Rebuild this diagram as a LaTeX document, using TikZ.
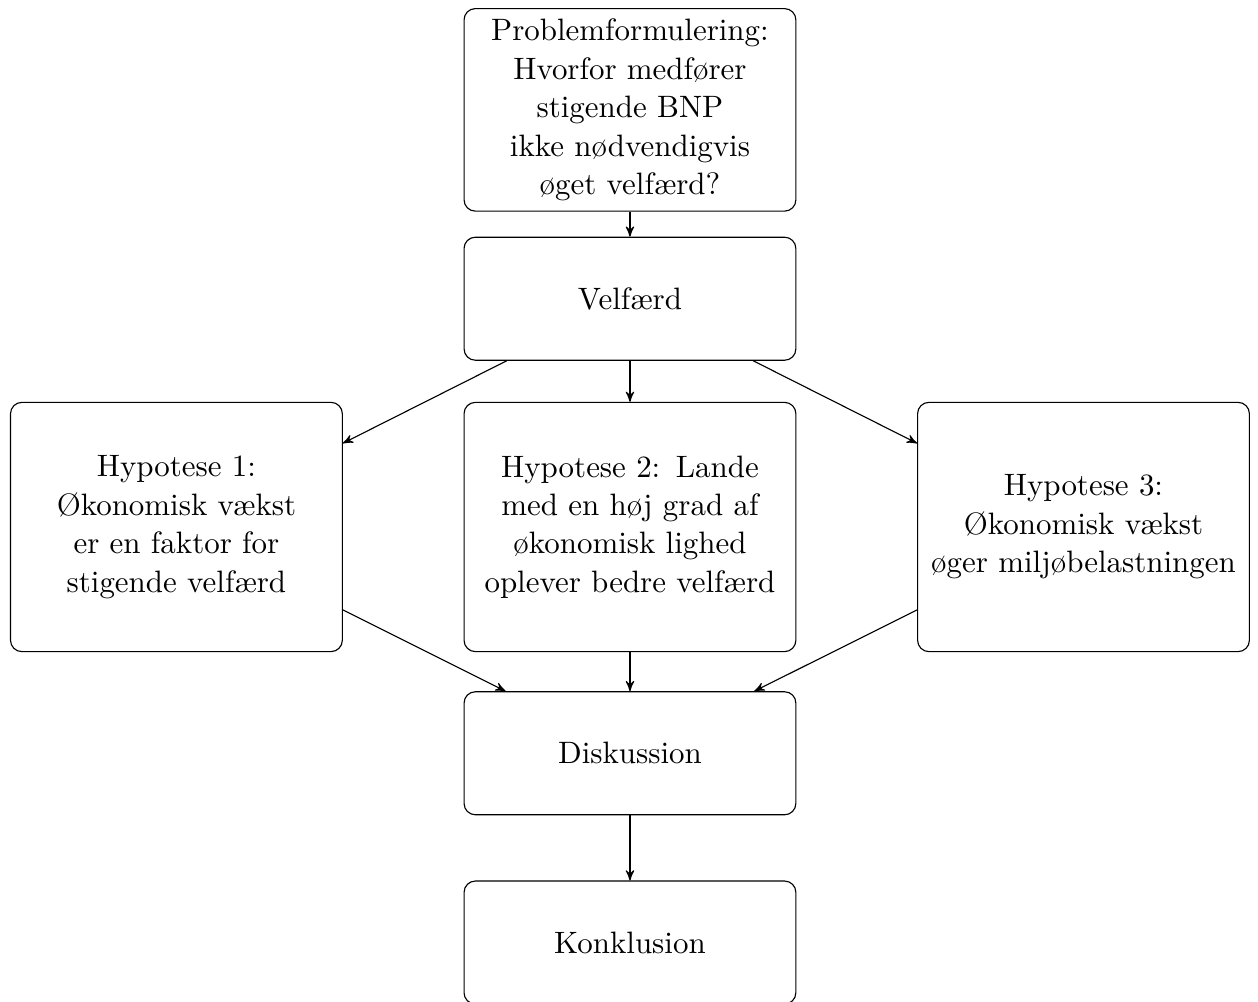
\documentclass[tikz,border=0pt,11pt]{standalone}
\usepackage{tikz}
\usetikzlibrary{positioning}
\usetikzlibrary{arrows}
\tikzset{
  boks/.style = {draw=black, rounded corners, align=center, text centered,
    text width=3.87cm},                         % almindelig boks
  boks_lav/.style = {boks, minimum height=1.53cm},  % lav boks
  boks_hyp/.style = {boks, minimum height=3.1cm}    % hypotese boks
}

\begin{document}
\begin{tikzpicture}[->,>=stealth']
    \node [boks] (problem) {Problemformulering:\\ Hvorfor medfører\\ stigende BNP\\ ikke nødvendigvis\\ øget velfærd?};
    \node [boks_lav, below=0.31cm of problem] (velfaerd) {Velfærd};
    \node [boks_hyp, below=0.51cm of velfaerd] (hyp2) {Hypotese 2: Lande\\ med en høj grad af\\ økonomisk lighed\\ oplever bedre velfærd};
    \node [boks_hyp, left=1.5cm of hyp2] (hyp1) {Hypotese 1:\\ Økonomisk vækst\\ er en faktor for\\ stigende velfærd};
    \node [boks_hyp, right=1.5cm of hyp2] (hyp3) {Hypotese 3:\\ Økonomisk vækst\\ øger miljøbelastningen};
    \node [boks_lav, below=0.485cm of hyp2] (diskussion) {Diskussion};
    \node [boks_lav, below=0.81cm of diskussion] (konklusion) {Konklusion};

    \draw (problem) -- (velfaerd);
    \draw (velfaerd) -- (hyp1);
    \draw (velfaerd) -- (hyp2);
    \draw (velfaerd) -- (hyp3);
    \draw (hyp1) -- (diskussion);
    \draw (hyp2) -- (diskussion);
    \draw (hyp3) -- (diskussion);
    \draw (diskussion) -- (konklusion);

    \coordinate (nw) at (hyp1.west |- problem.north);
    \coordinate (se) at (hyp3.east |- konklusion.south);
    \pgfresetboundingbox
    \useasboundingbox ([shift={(-0.124,0.1)}]nw) rectangle ([shift={(0.1,0.037)}]se);
\end{tikzpicture}
\end{document}
